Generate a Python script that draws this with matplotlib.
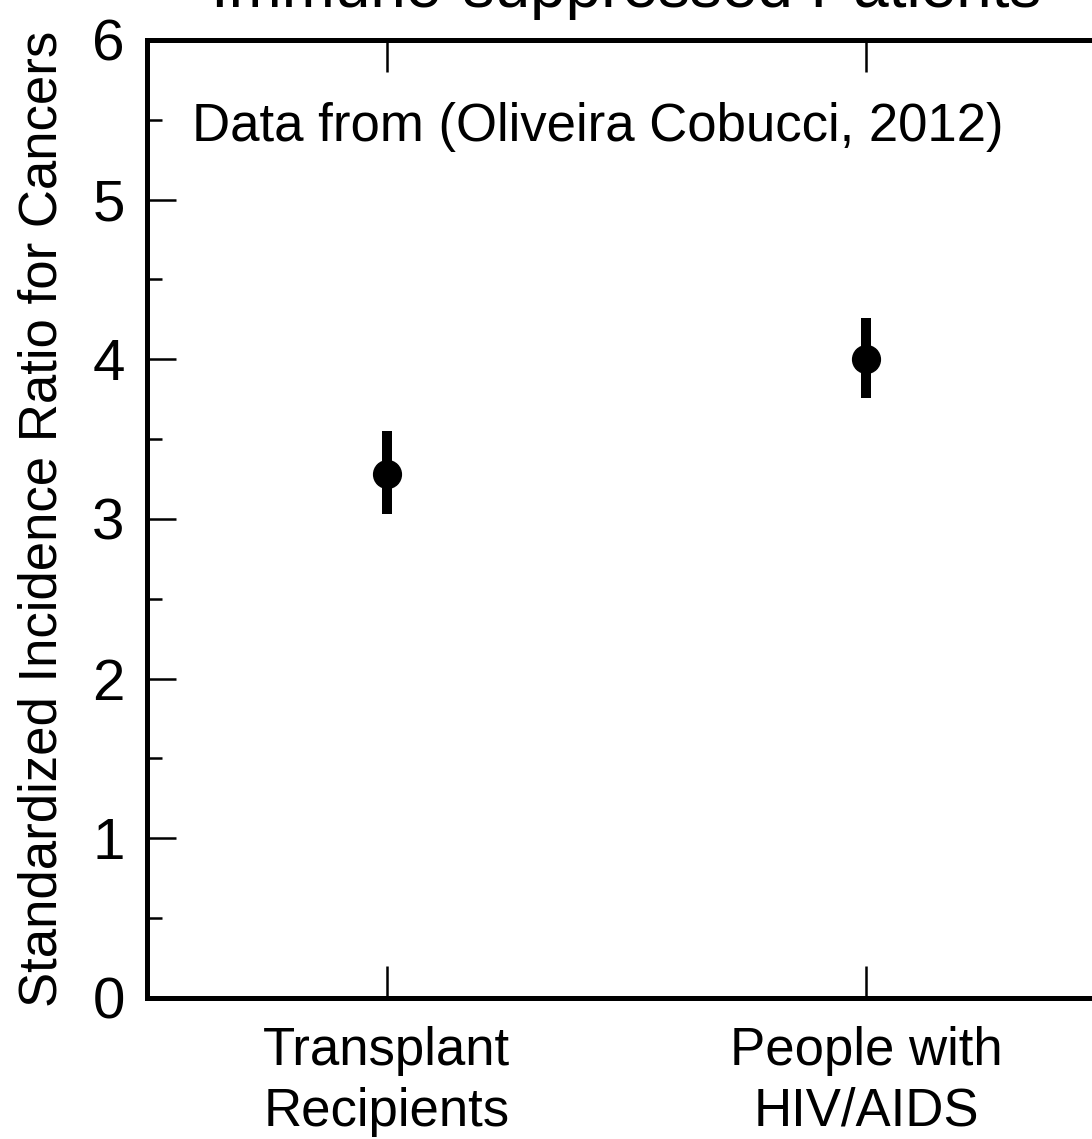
import matplotlib
matplotlib.use("Agg")
import matplotlib.pyplot as plt
from matplotlib.ticker import MultipleLocator

plt.rcParams['font.family'] = ['Liberation Sans', 'DejaVu Sans']

# Standardized incidence ratios with 95% confidence limits
groups = ["Transplant\nRecipients", "People with\nHIV/AIDS"]
sir = [3.28, 4.00]
ci_low = [3.03, 3.76]
ci_high = [3.55, 4.26]

x = list(range(1, len(groups) + 1))
err_low = [s - lo for s, lo in zip(sir, ci_low)]
err_high = [hi - s for s, hi in zip(sir, ci_high)]

fig = plt.figure(figsize=(10.92, 11.39), dpi=100)
ax = fig.add_axes([0.1346, 0.1238, 0.8782, 0.8411])

ax.errorbar(x, sir, yerr=[err_low, err_high], fmt='o', color='black',
            ecolor='black', elinewidth=7.2, markersize=20, capsize=0)

ax.set_xlim(0.5, len(groups) + 0.5)
ax.set_ylim(0, 6)
ax.set_xticks(x)
ax.set_xticklabels(groups, fontsize=38, linespacing=1.28)
ax.yaxis.set_major_locator(MultipleLocator(1))
ax.yaxis.set_minor_locator(MultipleLocator(0.5))
ax.tick_params(axis='y', which='major', labelsize=42)

ax.tick_params(axis='both', which='both', direction='in', width=1.8,
               top=True, right=False, pad=16)
ax.tick_params(axis='x', which='major', length=23, pad=20)
ax.tick_params(axis='y', which='major', length=21)
ax.tick_params(axis='y', which='minor', length=11)

for spine in ax.spines.values():
    spine.set_linewidth(3.6)

ax.set_ylabel("Standardized Incidence Ratio for Cancers", fontsize=38)
ax.yaxis.set_label_coords(-0.083, 0.5)
ax.set_title("Immune-suppressed Patients", fontsize=46, pad=24)

ax.text(0.594, 5.37, "Data from (Oliveira Cobucci, 2012)", fontsize=38,
        ha='left', va='baseline')

fig.savefig("out.png", dpi=100)
